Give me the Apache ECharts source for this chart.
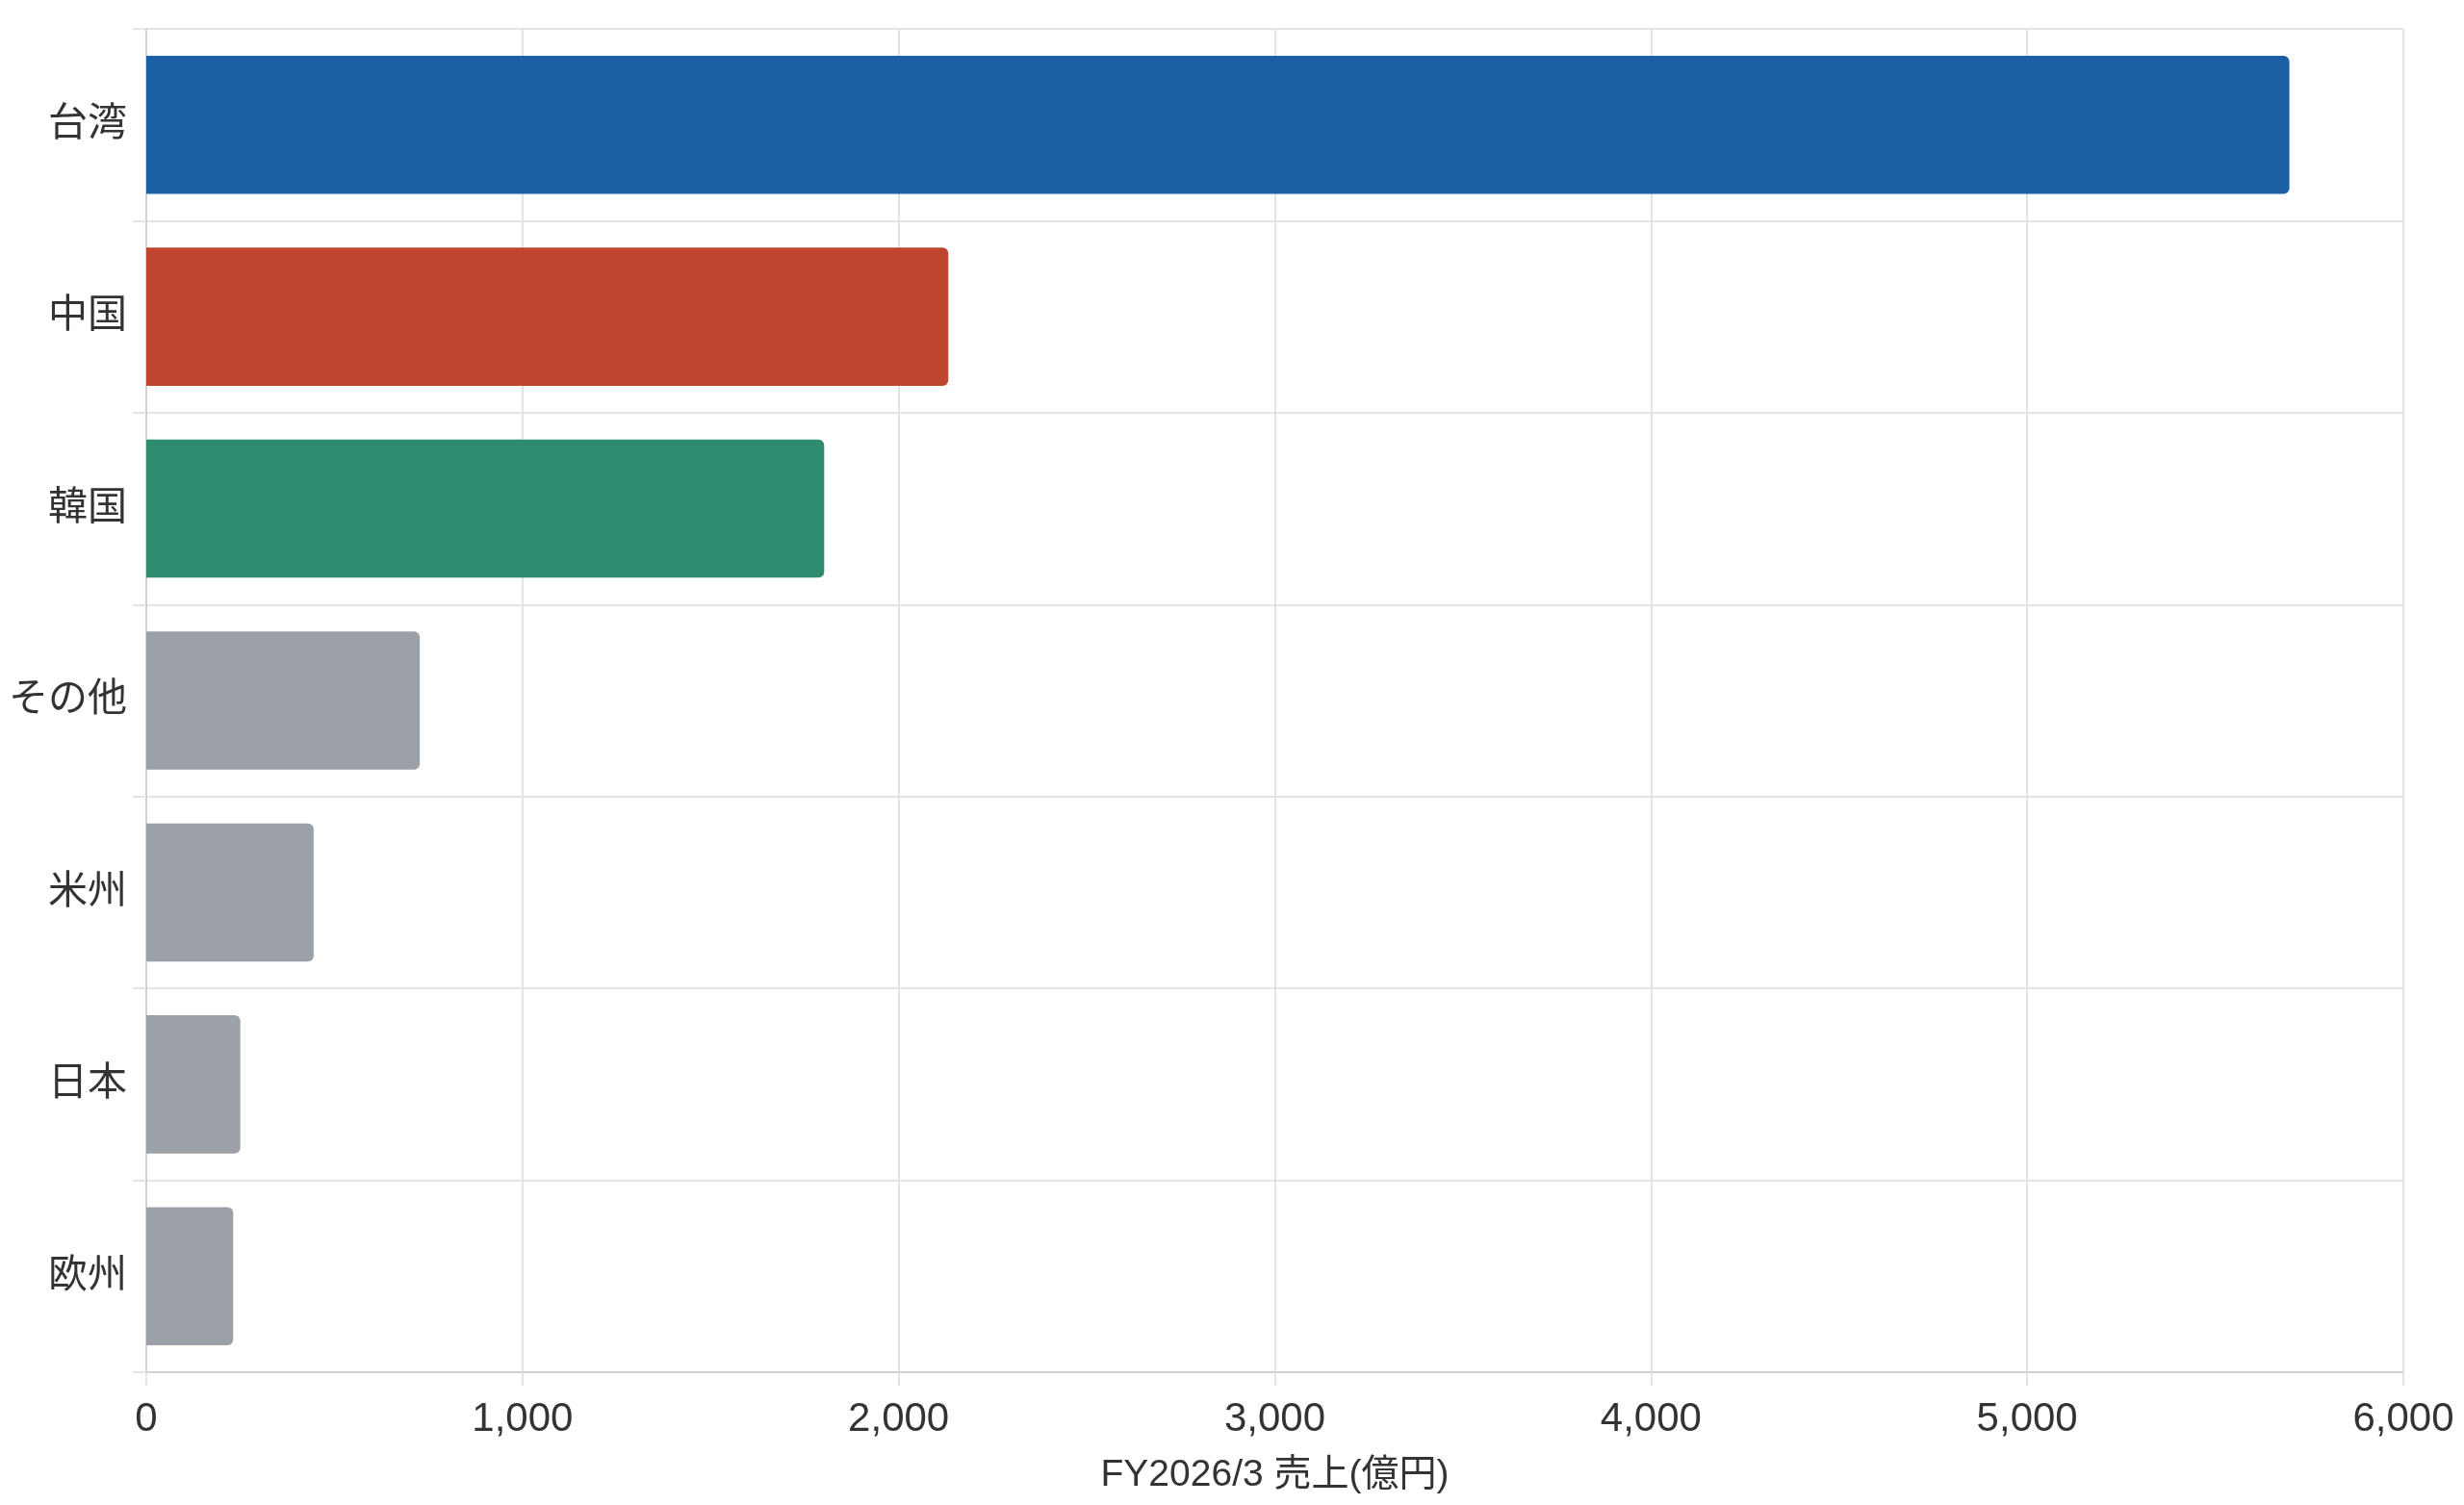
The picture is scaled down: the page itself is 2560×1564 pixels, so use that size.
<!DOCTYPE html>
<html>
<head>
<meta charset="utf-8">
<script src="https://cdn.jsdelivr.net/npm/echarts@6/dist/echarts.min.js"></script>
<style>
  html, body { margin: 0; padding: 0; background: #fff; }
  #chart { width: 2560px; height: 1564px; }
</style>
</head>
<body>
<div id="chart"></div>
<script>
    var regions = ["台湾", "中国", "韓国", "その他", "米州", "日本", "欧州"];
    var sales = [5697, 2132, 1802, 727, 445, 250, 231];
    var xTicks = [0, 1000, 2000, 3000, 4000, 5000, 6000];

    // 上位3地域だけ色付け、残りはグレー
    var barColors = ["#1b5fa4", "#c0452f", "#2e8b6f", "#9ca0a7", "#9ca0a7", "#9ca0a7", "#9ca0a7"];
    var font = "'Liberation Sans', 'Noto Sans CJK JP', sans-serif";

    var chart = echarts.init(document.getElementById("chart"));

    var barData = [];
    for (var i = 0; i < sales.length; i++) {
        barData.push({ value: sales[i], itemStyle: { color: barColors[i] } });
    }

    chart.setOption({
        animation: false,
        backgroundColor: "#fff",
        grid: { left: 152, right: 63, top: 30, bottom: 138, containLabel: false },
        xAxis: {
            type: "value",
            min: xTicks[0],
            max: xTicks[xTicks.length - 1],
            interval: 1000,
            name: "FY2026/3 売上(億円)",
            nameLocation: "middle",
            nameGap: 88,
            nameTextStyle: { fontSize: 39, color: "#333", fontFamily: font },
            axisLine: { show: true, lineStyle: { color: "#d0d0d0", width: 2 } },
            axisTick: { show: true, length: 14, lineStyle: { color: "#e4e4e4", width: 2 } },
            axisLabel: {
                fontSize: 42, color: "#333", margin: 28, fontFamily: font,
                formatter: function (v) { return v.toLocaleString("en-US"); }
            },
            splitLine: { show: true, lineStyle: { color: "#e4e4e4", width: 2 } }
        },
        yAxis: {
            type: "category",
            data: regions,
            inverse: true,
            axisLine: { show: true, lineStyle: { color: "#d0d0d0", width: 2 } },
            axisTick: { show: true, length: 14, lineStyle: { color: "#e4e4e4", width: 2 } },
            axisLabel: { fontSize: 41, color: "#333", margin: 20, fontFamily: font },
            splitLine: { show: true, lineStyle: { color: "#e4e4e4", width: 2 } }
        },
        series: [{
            type: "bar",
            data: barData,
            barCategoryGap: "28%",
            itemStyle: { borderRadius: [0, 6, 6, 0] }
        }]
    });
</script>
</body>
</html>
